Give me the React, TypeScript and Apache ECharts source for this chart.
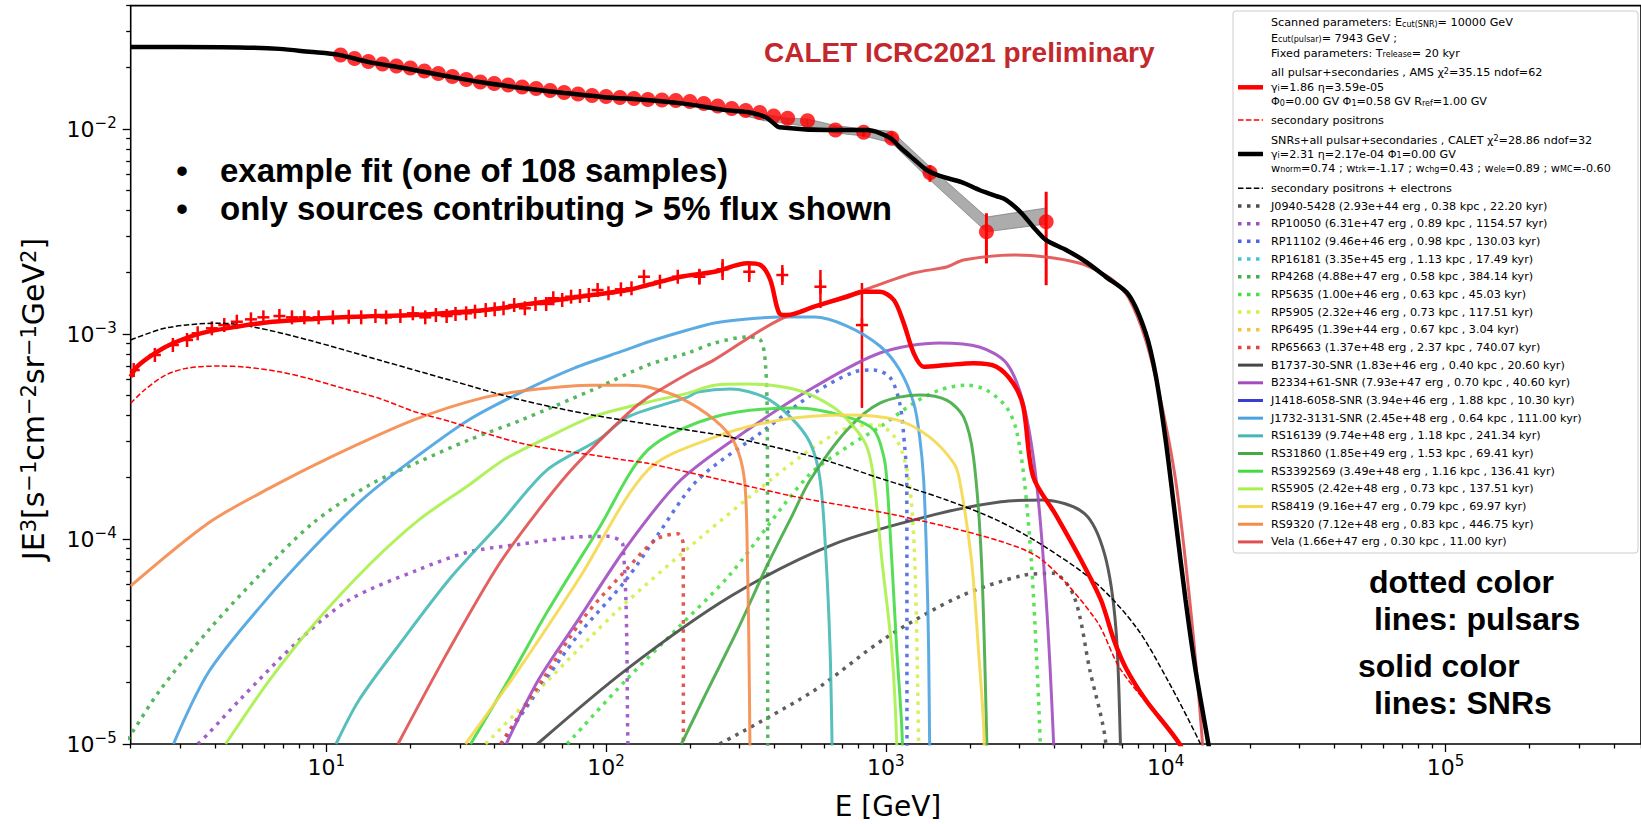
import React, { useEffect, useRef } from "react";
import * as echarts from "echarts";

// ---------------- axes ----------------
const X_RANGE = [2, 5e5];
const Y_RANGE = [1e-5, 0.04];
const X_MAJOR = [10, 100, 1000, 10000, 100000];
const Y_MAJOR = [1e-5, 1e-4, 1e-3, 1e-2];
const MINOR_MULT = [2, 3, 4, 5, 6, 7, 8, 9];
const X_MINOR = [1, 10, 100, 1000, 10000, 100000]
  .flatMap((d) => MINOR_MULT.map((m) => m * d))
  .filter((v) => v >= 2 && v <= 5e5);
const Y_MINOR = [1e-5, 1e-4, 1e-3, 1e-2]
  .flatMap((d) => MINOR_MULT.map((m) => +(m * d).toPrecision(3)))
  .filter((v) => v <= 0.04);

// ---------------- data: CALET (e+ + e-) ----------------
const CALET_E = [11.25, 12.62, 14.15, 15.89, 17.82, 19.98, 22.43, 25.16, 28.22, 31.67, 35.53, 39.84, 44.71, 50.16, 56.26, 63.1, 70.82, 79.43, 89.1, 100, 112.1, 125.8, 141.1, 158.4, 177.6, 199.3, 223.6, 250.8, 281.3, 315.7, 354.1, 397.2, 445.8, 524.8, 660.6, 833, 1050, 1438, 2288, 3741];
const CALET_F = [0.02296, 0.02208, 0.02135, 0.02076, 0.02029, 0.01984, 0.01919, 0.01865, 0.01804, 0.01744, 0.01696, 0.01667, 0.0164, 0.01603, 0.01576, 0.01541, 0.01507, 0.01482, 0.01457, 0.01441, 0.01425, 0.01409, 0.01393, 0.01385, 0.01378, 0.01362, 0.01332, 0.01295, 0.01259, 0.01231, 0.01204, 0.01157, 0.01128, 0.01098, 0.00989, 0.00964, 0.00901, 0.00612, 0.003155, 0.00353];
const CALET_ERR_E = [833, 1050, 1438, 2288, 3741];
const CALET_ERR_LO = [0.0092, 0.0085, 0.00553, 0.00221, 0.00173];
const CALET_ERR_HI = [0.0101, 0.0096, 0.00668, 0.00388, 0.00494];
const BAND_E = [300, 365, 445, 524, 660, 833, 1050, 1438, 2288, 3741];
const BAND_LO = [0.0118, 0.011, 0.0106, 0.0103, 0.00956, 0.00925, 0.00855, 0.00564, 0.00315, 0.00344];
const BAND_HI = [0.0124, 0.0118, 0.0113, 0.0112, 0.0104, 0.0100, 0.00975, 0.00653, 0.00372, 0.00412];

// ---------------- data: AMS positrons ----------------
const AMS_E = [2.05, 2.44, 2.83, 3.18, 3.47, 3.9, 4.32, 4.79, 5.38, 5.96, 6.8, 7.54, 8.35, 9.39, 10.56, 12.03, 13.33, 14.99, 16.37, 18.4, 20.39, 22.58, 24.65, 26.93, 28.97, 31.62, 34.01, 37.14, 39.98, 43.0, 46.95, 51.25, 55.94, 61.1, 64.77, 69.7, 75.0, 80.7, 86.8, 93.3, 102.0, 113.0, 123.3, 136.6, 155.8, 180.4, 215.6, 260.9, 324.8, 426.6, 583.7, 821.4];
const AMS_F = [6.67e-4, 7.9e-4, 8.84e-4, 9.35e-4, 1.008e-3, 1.066e-3, 1.106e-3, 1.148e-3, 1.179e-3, 1.206e-3, 1.224e-3, 1.206e-3, 1.206e-3, 1.206e-3, 1.206e-3, 1.214e-3, 1.206e-3, 1.224e-3, 1.206e-3, 1.224e-3, 1.262e-3, 1.206e-3, 1.238e-3, 1.224e-3, 1.252e-3, 1.262e-3, 1.285e-3, 1.309e-3, 1.32e-3, 1.335e-3, 1.385e-3, 1.335e-3, 1.401e-3, 1.401e-3, 1.494e-3, 1.465e-3, 1.521e-3, 1.533e-3, 1.55e-3, 1.639e-3, 1.58e-3, 1.652e-3, 1.671e-3, 1.903e-3, 1.8e-3, 1.903e-3, 1.903e-3, 2.068e-3, 2.013e-3, 1.94e-3, 1.701e-3, 1.106e-3];
const AMS_ERR_E = [215.6, 260.9, 324.8, 426.6, 583.7, 821.4];
const AMS_ERR_LO = [1.74e-3, 1.834e-3, 1.794e-3, 1.734e-3, 1.339e-3, 4.36e-4];
const AMS_ERR_HI = [2.08e-3, 2.32e-3, 2.245e-3, 2.17e-3, 2.052e-3, 1.773e-3];

// ---------------- data: model curves [E (GeV), JE^3] ----------------
const FIT_CALET: [number, number][] = [[2.0, 0.0251], [3.0, 0.0251], [4.9, 0.025], [6.8, 0.0246], [8.7, 0.0238], [11.1, 0.023], [14.2, 0.0212], [19.1, 0.0198], [26.5, 0.0182], [36.8, 0.0168], [51.1, 0.0158], [70.9, 0.015], [98.4, 0.0143], [136.5, 0.0139], [189.5, 0.0133], [263, 0.0124], [320, 0.0121], [356, 0.0117], [377, 0.0113], [400, 0.01057], [416, 0.0102], [617, 0.00989], [856, 0.00989], [952, 0.00956], [1050, 0.00894], [1121, 0.00817], [1268, 0.00706], [1399, 0.00631], [1557, 0.0059], [1864, 0.00551], [2160, 0.00504], [2483, 0.00471], [2696, 0.0045], [3048, 0.0039], [3364, 0.00333], [3741, 0.00287], [4408, 0.00257], [5192, 0.00225], [6116, 0.0019], [7385, 0.00155], [8488, 0.00101], [9213, 0.00063], [10000, 0.000304], [10854, 0.000124], [11782, 5.04e-5], [12788, 2.3e-5], [14342, 9.35e-6], [15315, 5.33e-6]];
const FIT_AMS: [number, number][] = [[2.0, 0.000619], [2.108, 0.000693], [2.443, 0.000806], [2.832, 0.000901], [3.561, 0.001008], [4.783, 0.001085], [6.424, 0.001148], [8.628, 0.001179], [11.4, 0.001206], [15.44, 0.001224], [20.73, 0.001237], [27.63, 0.00127], [37.1, 0.001309], [49.83, 0.001385], [66.93, 0.001465], [89.15, 0.00155], [119.7, 0.001639], [141.1, 0.001734], [184.9, 0.001903], [244.3, 0.002013], [320.1, 0.002212], [356.2, 0.00217], [386.5, 0.001834], [416.2, 0.001261], [444.4, 0.001237], [554.4, 0.001359], [726.4, 0.00152], [835.1, 0.001608], [952.1, 0.001608], [1068, 0.001465], [1159, 0.001127], [1258, 0.000806], [1365, 0.000693], [1649, 0.000706], [2057, 0.00072], [2483, 0.000693], [2855, 0.000574], [3099, 0.000442], [3364, 0.000201], [4060, 0.0001305], [4983, 7.9e-5], [5872, 5.04e-5], [6531, 3.22e-5], [7206, 2.35e-5], [8488, 1.64e-5], [11215, 1.0e-5], [12275, 7.47e-6]];
const SEC_POS: [number, number][] = [[2.0, 0.000459], [2.239, 0.000533], [2.667, 0.000631], [3.179, 0.000681], [4.137, 0.000698], [5.23, 0.000688], [6.803, 0.000654], [8.6, 0.000608], [11.52, 0.000543], [15.44, 0.000486], [20.68, 0.000418], [27.72, 0.000374], [37.13, 0.000328], [49.79, 0.000293], [66.7, 0.000272], [89.4, 0.000257], [116.2, 0.000243], [141.1, 0.000234], [243.7, 0.000198], [482.3, 0.00016], [1094, 0.0001305], [2483, 9.89e-5], [3619, 7.9e-5], [5636, 4.03e-5], [6917, 2.3e-5], [11215, 1.0e-5], [12275, 7.47e-6]];
const SEC_ALL: [number, number][] = [[2.0, 0.000935], [2.673, 0.00107], [4.127, 0.00113], [5.543, 0.00108], [8.628, 0.000935], [15.44, 0.000747], [27.63, 0.000596], [49.83, 0.000476], [89.15, 0.000403], [141.1, 0.000364], [195.8, 0.00034], [278.6, 0.000314], [554.4, 0.000251], [952.1, 0.000198], [1649, 0.000155], [2483, 0.000124], [3619, 9.35e-5], [5636, 6.1e-5], [7884, 3.68e-5], [10165, 2.05e-5], [13323, 1.0e-5], [14460, 7.47e-6]];

// pulsars (dotted)
const J0940: [number, number][] = [[254.5, 1.0e-5], [549.9, 1.81e-5], [994, 3.28e-5], [1834, 5.24e-5], [3067, 6.63e-5], [3962, 6.8e-5], [4707, 5.24e-5], [5356, 2.3e-5], [6116, 1.0e-5], [6200, 5.33e-6]];
const RP10050: [number, number][] = [[3.475, 1.0e-5], [3.803, 1.13e-5], [4.902, 1.64e-5], [8.014, 3.22e-5], [12.07, 5.04e-5], [21.19, 7.06e-5], [32.28, 8.64e-5], [49.83, 9.45e-5], [76.3, 0.000102], [101.6, 0.000103], [114.9, 9.35e-5], [119.7, 1.0e-5], [120.1, 5.33e-6]];
const RP11102: [number, number][] = [[42.16, 1.0e-5], [57.28, 1.83e-5], [79.49, 3.4e-5], [117.8, 6.31e-5], [153.1, 0.000105], [212.5, 0.000194], [368, 0.00034], [554.4, 0.000515], [769.3, 0.000652], [906.4, 0.000667], [1033, 0.000617], [1121, 0.00046], [1168, 0.000281], [1188, 0.000194], [1190, 1.0e-5], [1192, 5.33e-6]];
const RP4268: [number, number][] = [[1.95, 1.05e-5], [2.018, 1.13e-5], [2.545, 1.83e-5], [3.803, 3.6e-5], [5.775, 6.67e-5], [8.988, 0.00012], [14.22, 0.000183], [21.43, 0.000238], [32.28, 0.000304], [49.83, 0.000381], [89.15, 0.000533], [141.1, 0.000706], [195.8, 0.000808], [244.3, 0.000904], [320.1, 0.000967], [356.2, 0.000935], [371.1, 0.000722], [377.1, 0.00034], [378.3, 1.0e-5], [378.8, 5.33e-6]];
const RP5635: [number, number][] = [[72.59, 1.0e-5], [117.8, 2.05e-5], [180.4, 3.68e-5], [276.3, 6.67e-5], [523.5, 0.000201], [726.4, 0.000281], [952.1, 0.000352], [1258, 0.00046], [1557, 0.000533], [1942, 0.000563], [2288, 0.000533], [2696, 0.00044], [2926, 0.00034], [3124, 0.000194], [3309, 7.9e-5], [3447, 2.87e-5], [3562, 1.0e-5], [3576, 5.33e-6]];
const RP5905: [number, number][] = [[37.1, 1.0e-5], [62.17, 2.05e-5], [110.3, 4.5e-5], [212.5, 9.89e-5], [399.4, 0.000201], [554.4, 0.000281], [726.4, 0.000348], [929, 0.00036], [1094, 0.000304], [1208, 0.000194], [1268, 7.9e-5], [1310, 1.0e-5], [1315, 5.33e-6]];
const RP65663: [number, number][] = [[42.0, 1.0e-5], [59.19, 2.05e-5], [83.5, 4.15e-5], [117.8, 7.06e-5], [151.9, 0.0001], [180.4, 0.000106], [188.7, 9.45e-5], [189.0, 1.0e-5], [189.5, 5.33e-6]];

// SNRs (solid)
const B1737: [number, number][] = [[56.81, 1.0e-5], [117.8, 2.3e-5], [277.8, 5.24e-5], [653, 9.45e-5], [1544, 0.000133], [2581, 0.000152], [3639, 0.000155], [5131, 0.000133], [6061, 8.36e-5], [6639, 3.68e-5], [6894, 1.0e-5], [6950, 5.33e-6]];
const B2334: [number, number][] = [[43.96, 1.0e-5], [57.28, 2.05e-5], [79.49, 4.03e-5], [119.7, 9.35e-5], [184.9, 0.000194], [320.1, 0.00034], [554.4, 0.000551], [952.1, 0.000808], [1557, 0.000904], [2160, 0.000864], [2696, 0.000722], [3099, 0.00046], [3447, 0.000194], [3741, 5.04e-5], [3978, 1.0e-5], [4010, 5.33e-6]];
const J1732: [number, number][] = [[2.843, 1.0e-5], [3.803, 2.25e-5], [5.87, 4.76e-5], [8.988, 9.04e-5], [13.76, 0.00016], [21.43, 0.000257], [32.28, 0.000381], [49.83, 0.000521], [76.93, 0.000682], [117.8, 0.000836], [141.1, 0.000914], [195.8, 0.001046], [244.3, 0.001131], [320.1, 0.001183], [419.6, 0.00121], [554.4, 0.00121], [726.4, 0.001094], [952.1, 0.000874], [1121, 0.000667], [1258, 0.00046], [1321, 0.000314], [1365, 0.000194], [1399, 7.9e-5], [1422, 2.87e-5], [1434, 1.0e-5], [1446, 5.33e-6]];
const RS16139: [number, number][] = [[10.83, 1.0e-5], [13.1, 1.64e-5], [18.19, 3.04e-5], [27.4, 6.31e-5], [41.27, 0.000117], [61.46, 0.000217], [93.65, 0.000304], [119.7, 0.000394], [195.8, 0.000492], [212.5, 0.000521], [278.6, 0.000539], [368, 0.000492], [455.5, 0.000394], [536.5, 0.000294], [582.4, 0.000194], [611.7, 7.9e-5], [632, 2.87e-5], [642.4, 1.0e-5], [647.7, 5.33e-6]];
const RS31860: [number, number][] = [[185.9, 1.0e-5], [230.7, 1.83e-5], [295, 3.6e-5], [377.1, 7.47e-5], [463, 0.0001305], [536.5, 0.000194], [726.4, 0.00034], [952.1, 0.00046], [1321, 0.000504], [1649, 0.000476], [1895, 0.000394], [2057, 0.000251], [2196, 7.9e-5], [2296, 1.0e-5], [2307, 5.33e-6]];
const RS3392569: [number, number][] = [[32.81, 1.0e-5], [44.79, 2.05e-5], [62.17, 4.5e-5], [93.65, 0.000111], [141.1, 0.000272], [244.3, 0.000394], [482.3, 0.000436], [726.4, 0.000394], [906.4, 0.00034], [983.9, 0.000251], [1008, 0.000194], [1050, 7.9e-5], [1094, 2.87e-5], [1146, 1.0e-5], [1149, 5.33e-6]];
const RS5905: [number, number][] = [[4.368, 1.0e-5], [6.268, 2.05e-5], [8.988, 3.81e-5], [14.22, 7.47e-5], [21.43, 0.000124], [32.28, 0.000183], [43.0, 0.000243], [62.17, 0.000314], [89.15, 0.000394], [141.1, 0.000465], [195.8, 0.000515], [244.3, 0.000563], [320.1, 0.00057], [482.3, 0.000533], [647.7, 0.00044], [769.3, 0.000352], [855.8, 0.000281], [906.4, 0.000194], [967.8, 7.9e-5], [1050, 2.87e-5], [1094, 1.0e-5], [1099, 5.33e-6]];
const RS8419: [number, number][] = [[31.44, 1.0e-5], [48.62, 2.3e-5], [79.49, 6.31e-5], [141.1, 0.000217], [244.3, 0.000314], [419.6, 0.000381], [726.4, 0.000403], [1094, 0.000381], [1434, 0.000314], [1746, 0.000235], [1834, 0.000194], [2023, 7.9e-5], [2143, 2.87e-5], [2247, 1.0e-5], [2251, 5.33e-6]];
const RS9320: [number, number][] = [[2.0, 5.9e-5], [3.803, 0.00012], [6.268, 0.000177], [10.25, 0.000249], [20.57, 0.000381], [37.1, 0.000492], [57.28, 0.000539], [89.15, 0.000563], [119.7, 0.000563], [141.1, 0.000551], [184.9, 0.000487], [244.3, 0.000381], [287.9, 0.000294], [312.4, 0.000194], [320.1, 7.9e-5], [324.1, 2.87e-5], [326.7, 1.0e-5], [327.5, 5.33e-6]];
const VELA: [number, number][] = [[18.04, 1.0e-5], [27.4, 2.87e-5], [41.27, 7.47e-5], [57.28, 0.000138], [76.93, 0.000225], [119.7, 0.00041], [141.1, 0.00049], [195.8, 0.00064], [244.3, 0.00075], [419.6, 0.00118], [835.1, 0.001639], [1258, 0.001984], [1649, 0.002122], [1895, 0.002296], [2855, 0.002429], [3741, 0.002375], [4902, 0.00222], [5636, 0.002052], [6478, 0.001834], [7385, 0.001498], [8488, 0.000935], [9598, 0.000476], [10854, 0.000194], [11976, 6.31e-5], [12788, 2.57e-5], [13544, 1.0e-5], [13880, 5.33e-6]];

// ---------------- legend texts ----------------
const HEADER_LINES = [
  "Scanned parameters: E{sub|cut(SNR)}= 10000 GeV",
  "E{sub|cut(pulsar)}= 7943 GeV ;",
  "Fixed parameters: T{sub|release}= 20 kyr",
  "all pulsar+secondaries , AMS χ{sup|2}=35.15 ndof=62",
  "γ{sub|i}=1.86 η=3.59e-05",
  "Φ{sub|0}=0.00 GV Φ{sub|1}=0.58 GV R{sub|ref}=1.00 GV",
  "secondary positrons",
  "SNRs+all pulsar+secondaries , CALET χ{sup|2}=28.86 ndof=32",
  "γ{sub|i}=2.31 η=2.17e-04 Φ{sub|1}=0.00 GV",
  "w{sub|norm}=0.74 ; w{sub|trk}=-1.17 ; w{sub|chg}=0.43 ; w{sub|ele}=0.89 ; w{sub|MC}=-0.60",
  "secondary positrons + electrons",
];
const SOURCE_LABELS = [
  "J0940-5428 (2.93e+44 erg , 0.38 kpc , 22.20 kyr)",
  "RP10050 (6.31e+47 erg , 0.89 kpc , 1154.57 kyr)",
  "RP11102 (9.46e+46 erg , 0.98 kpc , 130.03 kyr)",
  "RP16181 (3.35e+45 erg , 1.13 kpc , 17.49 kyr)",
  "RP4268 (4.88e+47 erg , 0.58 kpc , 384.14 kyr)",
  "RP5635 (1.00e+46 erg , 0.63 kpc , 45.03 kyr)",
  "RP5905 (2.32e+46 erg , 0.73 kpc , 117.51 kyr)",
  "RP6495 (1.39e+44 erg , 0.67 kpc , 3.04 kyr)",
  "RP65663 (1.37e+48 erg , 2.37 kpc , 740.07 kyr)",
  "B1737-30-SNR (1.83e+46 erg , 0.40 kpc , 20.60 kyr)",
  "B2334+61-SNR (7.93e+47 erg , 0.70 kpc , 40.60 kyr)",
  "J1418-6058-SNR (3.94e+46 erg , 1.88 kpc , 10.30 kyr)",
  "J1732-3131-SNR (2.45e+48 erg , 0.64 kpc , 111.00 kyr)",
  "RS16139 (9.74e+48 erg , 1.18 kpc , 241.34 kyr)",
  "RS31860 (1.85e+49 erg , 1.53 kpc , 69.41 kyr)",
  "RS3392569 (3.49e+48 erg , 1.16 kpc , 136.41 kyr)",
  "RS5905 (2.42e+48 erg , 0.73 kpc , 137.51 kyr)",
  "RS8419 (9.16e+47 erg , 0.79 kpc , 69.97 kyr)",
  "RS9320 (7.12e+48 erg , 0.83 kpc , 446.75 kyr)",
  "Vela (1.66e+47 erg , 0.30 kpc , 11.00 kyr)",
];
const SOURCE_DATA: ([number, number][] | null)[] = [J0940, RP10050, RP11102, null, RP4268, RP5635, RP5905, null, RP65663, B1737, B2334, null, J1732, RS16139, RS31860, RS3392569, RS5905, RS8419, RS9320, VELA];
const SOURCE_COLORS = ["#4d4d4d", "#9a4fc4", "#4a66e0", "#45c4d2", "#42b04e", "#46e046", "#d2f04a", "#f5c242", "#e0453f", "#474747", "#a24cc0", "#3a3ecc", "#4aa3e0", "#45b8b5", "#45aa45", "#44dc44", "#a8f04a", "#f5d84c", "#f58b4a", "#e05050"];
const SOURCE_DOTTED = [true, true, true, true, true, true, true, true, true, false, false, false, false, false, false, false, false, false, false, false];

const FONT = "'DejaVu Sans', sans-serif";
const BOLD = "'Liberation Sans', Arial, sans-serif";
const DOT = [3.5, 5.5];
const DASH = [5.5, 2.4];

function powLabel(v: number) {
  const n = Math.round(Math.log10(v));
  const s = n < 0 ? "\u2212" + String(-n) : String(n);
  return "{b|10}{s|" + s + "}";
}
const TICK_RICH = {
  b: { fontSize: 22, fontFamily: FONT, color: "#000", lineHeight: 28 },
  s: { fontSize: 15, fontFamily: FONT, color: "#000", verticalAlign: "top" },
};

function lineSeries(data: [number, number][], color: string, width: number, type: any, opacity = 1) {
  return {
    type: "line",
    data,
    showSymbol: false,
    symbol: "none",
    smooth: 0.3,
    clip: true,
    silent: true,
    lineStyle: { color, width, type, opacity, cap: "butt" },
  };
}

function errRender(color: string, width: number) {
  return (params: any, api: any) => {
    const e = api.value(0);
    const a = api.coord([e, api.value(1)]);
    const b = api.coord([e, api.value(2)]);
    return {
      type: "line",
      shape: { x1: a[0], y1: a[1], x2: b[0], y2: b[1] },
      style: { stroke: color, lineWidth: width },
    };
  };
}

function buildOption() {
  const series: any[] = [];
  SOURCE_DATA.forEach((d, i) => {
    if (!d) return;
    series.push(lineSeries(d, SOURCE_COLORS[i], SOURCE_DOTTED[i] ? 3.5 : 3, SOURCE_DOTTED[i] ? DOT : "solid", 0.9));
  });
  series.push(lineSeries(SEC_POS, "#ff0000", 1.5, DASH));
  series.push(lineSeries(SEC_ALL, "#000000", 1.5, DASH));
  series.push(lineSeries(FIT_AMS, "#ff0000", 4.5, "solid"));
  series.push({
    type: "custom",
    clip: true,
    silent: true,
    data: BAND_E.map((e, i) => [e, BAND_LO[i], BAND_HI[i]]),
    encode: { x: 0, y: [1, 2] },
    renderItem: (params: any, api: any) => {
      const i = params.dataIndex;
      if (i >= BAND_E.length - 1) return null;
      const p1 = api.coord([BAND_E[i], BAND_HI[i]]);
      const p2 = api.coord([BAND_E[i + 1], BAND_HI[i + 1]]);
      const p3 = api.coord([BAND_E[i + 1], BAND_LO[i + 1]]);
      const p4 = api.coord([BAND_E[i], BAND_LO[i]]);
      return {
        type: "polygon",
        shape: { points: [p1, p2, p3, p4] },
        style: { fill: "rgba(128,128,128,0.65)", stroke: "rgba(110,110,110,0.8)", lineWidth: 0.8 },
      };
    },
  });
  series.push(lineSeries(FIT_CALET, "#000000", 4.5, "solid"));
  series.push({
    type: "custom",
    clip: true,
    silent: true,
    data: AMS_E.map((e, i) => [e, AMS_F[i]]),
    encode: { x: 0, y: 1 },
    renderItem: (params: any, api: any) => {
      const p = api.coord([api.value(0), api.value(1)]);
      const st = { stroke: "#ff0000", lineWidth: 2.5 };
      return {
        type: "group",
        children: [
          { type: "line", shape: { x1: p[0] - 6, y1: p[1], x2: p[0] + 6, y2: p[1] }, style: st },
          { type: "line", shape: { x1: p[0], y1: p[1] - 7, x2: p[0], y2: p[1] + 7 }, style: st },
        ],
      };
    },
  });
  series.push({
    type: "custom",
    clip: true,
    silent: true,
    data: AMS_ERR_E.map((e, i) => [e, AMS_ERR_LO[i], AMS_ERR_HI[i]]),
    encode: { x: 0, y: [1, 2] },
    renderItem: errRender("#ff0000", 2.5),
  });
  series.push({
    type: "custom",
    clip: true,
    silent: true,
    data: CALET_ERR_E.map((e, i) => [e, CALET_ERR_LO[i], CALET_ERR_HI[i]]),
    encode: { x: 0, y: [1, 2] },
    renderItem: errRender("#ff0000", 3),
  });
  series.push({
    type: "scatter",
    data: CALET_E.map((e, i) => [e, CALET_F[i]]),
    symbol: "circle",
    symbolSize: 15,
    silent: true,
    itemStyle: { color: "#ff0000" },
  });

  const g: any[] = [];
  const LF = 11.2;
  const legRich = {
    sub: { fontSize: 8, fontFamily: FONT, fill: "#000", verticalAlign: "bottom" },
    sup: { fontSize: 8, fontFamily: FONT, fill: "#000", verticalAlign: "top" },
  };
  g.push({ type: "rect", shape: { x: 1233, y: 11, width: 405, height: 542, r: 3 }, style: { fill: "rgba(255,255,255,0.85)", stroke: "#cccccc", lineWidth: 1 } });
  const headerY = [22.7, 38.3, 53.3, 72.7, 87.3, 101.7, 120, 140, 154, 168.3, 188.3];
  HEADER_LINES.forEach((t, i) => {
    g.push({
      type: "text", x: 1271, y: headerY[i],
      style: { text: t, fontSize: LF, fontFamily: FONT, fill: "#000", align: "left", verticalAlign: "middle", textAlign: "left", textVerticalAlign: "middle", rich: legRich },
    });
  });
  const sample = (y: number, color: string, w: number, dash: any) =>
    g.push({ type: "line", shape: { x1: 1238, y1: y, x2: 1263, y2: y }, style: { stroke: color, lineWidth: w, lineDash: dash } });
  sample(87.3, "#ff0000", 4.5, null);
  sample(120, "#ff0000", 1.5, DASH);
  sample(154, "#000000", 4.5, null);
  sample(188.3, "#000000", 1.5, DASH);
  SOURCE_LABELS.forEach((t, i) => {
    const y = 206 + i * 17.68;
    sample(y, SOURCE_COLORS[i], SOURCE_DOTTED[i] ? 3.5 : 3, SOURCE_DOTTED[i] ? DOT : null);
    g.push({
      type: "text", x: 1271, y,
      style: { text: t, fontSize: LF, fontFamily: FONT, fill: "#000", align: "left", verticalAlign: "middle", textAlign: "left", textVerticalAlign: "middle" },
    });
  });
  const bigText = (x: number, y: number, t: string, size: number, color = "#000", align = "left") =>
    g.push({ type: "text", x, y, style: { text: t, fontSize: size, fontWeight: "bold", fontFamily: BOLD, fill: color, align, verticalAlign: "middle", textAlign: align, textVerticalAlign: "middle" } });
  bigText(764, 52.8, "CALET ICRC2021 preliminary", 28, "#c3282d");
  bigText(182, 170.6, "•", 33, "#000", "center");
  bigText(220, 170.6, "example fit (one of 108 samples)", 33);
  bigText(182, 208, "•", 33, "#000", "center");
  bigText(220, 208, "only sources contributing > 5% flux shown", 33);
  bigText(1369, 582, "dotted color", 32);
  bigText(1374, 618.5, "lines: pulsars", 32);
  bigText(1358, 666, "solid color", 32);
  bigText(1374, 703, "lines: SNRs", 32);
  g.push({ type: "text", x: 888, y: 806, style: { text: "E [GeV]", fontSize: 28, fontFamily: FONT, fill: "#000", align: "center", verticalAlign: "middle", textAlign: "center", textVerticalAlign: "middle" } });
  g.push({
    type: "text", x: 33, y: 399, rotation: Math.PI / 2,
    style: {
      text: "JE{s|3}[s{s|\u22121}cm{s|\u22122}sr{s|\u22121}GeV{s|2}]",
      fontSize: 30, fontFamily: FONT, fill: "#000", align: "center", verticalAlign: "middle", textAlign: "center", textVerticalAlign: "middle",
      rich: { s: { fontSize: 21, fontFamily: FONT, fill: "#000", verticalAlign: "top" } },
    },
  });

  const tickStyle = { color: "#000", width: 1.3 };
  const baseX = { type: "log", logBase: 10, min: X_RANGE[0], max: X_RANGE[1], gridIndex: 0, position: "bottom", axisLine: { show: false }, splitLine: { show: false } };
  const baseY = { type: "log", logBase: 10, min: Y_RANGE[0], max: Y_RANGE[1], gridIndex: 0, position: "left", axisLine: { show: false }, splitLine: { show: false } };

  return {
    animation: false,
    backgroundColor: "#ffffff",
    grid: { left: 130.7, top: 5.6, width: 1515, height: 738.4, show: true, borderColor: "#000", borderWidth: 1.6, backgroundColor: "transparent" },
    xAxis: [
      { ...baseX, axisTick: { show: true, inside: false, length: 8, lineStyle: tickStyle, customValues: X_MAJOR }, axisLabel: { show: true, customValues: X_MAJOR, margin: 9, formatter: powLabel, rich: TICK_RICH } },
      { ...baseX, axisTick: { show: true, inside: false, length: 4.5, lineStyle: tickStyle, customValues: X_MINOR }, axisLabel: { show: false } },
    ],
    yAxis: [
      { ...baseY, axisTick: { show: true, inside: false, length: 8, lineStyle: tickStyle, customValues: Y_MAJOR }, axisLabel: { show: true, customValues: Y_MAJOR, margin: 14, formatter: powLabel, rich: TICK_RICH } },
      { ...baseY, axisTick: { show: true, inside: false, length: 4.5, lineStyle: tickStyle, customValues: Y_MINOR }, axisLabel: { show: false } },
    ],
    series,
    graphic: g,
  };
}

export default function App() {
  const ref = useRef<HTMLDivElement>(null);
  useEffect(() => {
    const chart = echarts.init(ref.current as HTMLDivElement, null, { renderer: "svg" });
    chart.setOption(buildOption() as any);
    return () => chart.dispose();
  }, []);
  return (
    <div
      ref={ref}
      style={{ position: "absolute", left: 0, top: 0, width: 1641, height: 824, background: "#fff", overflow: "hidden" }}
    />
  );
}
